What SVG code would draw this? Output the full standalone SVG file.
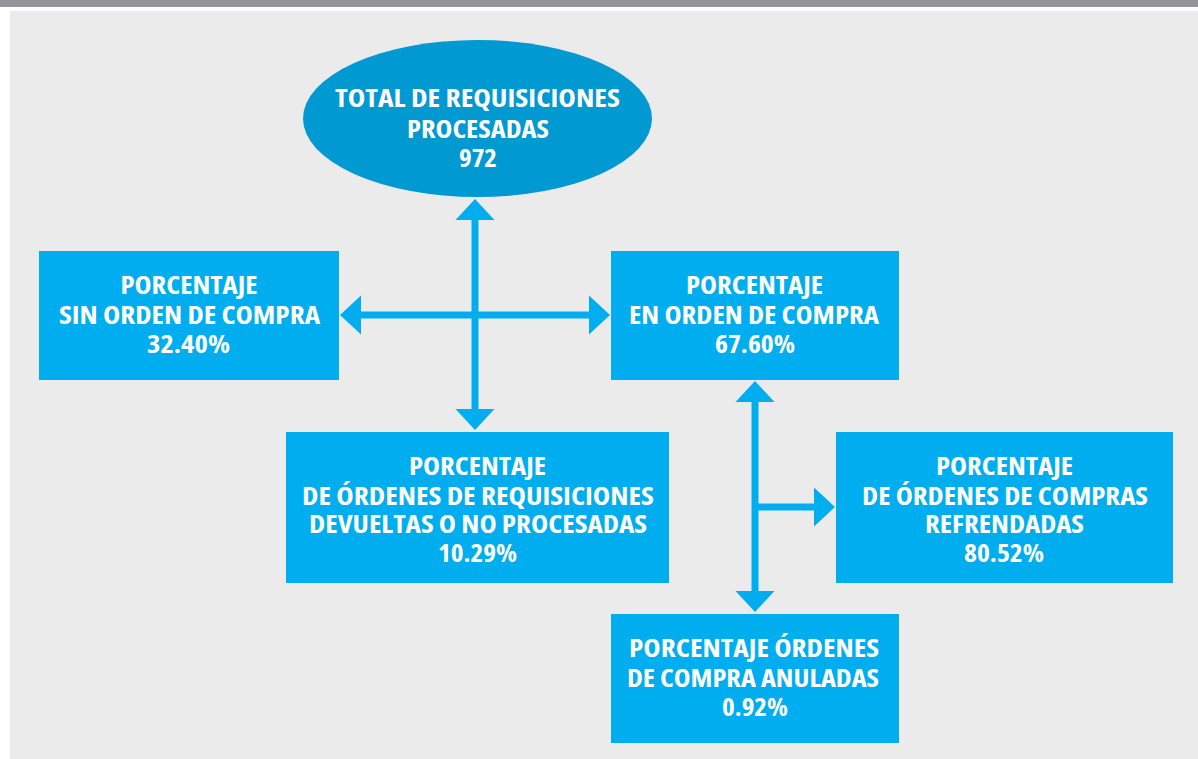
<svg xmlns="http://www.w3.org/2000/svg" width="1198" height="759" viewBox="0 0 1198 759">
<style>
.box{fill:#00AEEF}
.ell{fill:#0099D2}
.t{font-family:"Open Sans","Noto Sans","DejaVu Sans Condensed",sans-serif;font-stretch:condensed;font-weight:bold;font-size:25px;fill:#FFFFFF;text-anchor:middle}
.c{stroke:#00AEEF;stroke-width:7;fill:none}
</style>
<defs>
<marker id="ah" markerUnits="userSpaceOnUse" markerWidth="22" markerHeight="40" viewBox="0 0 22 40" refX="1" refY="20" orient="auto-start-reverse">
<path d="M0,0.5 L21,20 L0,39.5 Z" fill="#00AEEF"/>
</marker>
</defs>
<rect x="0" y="0" width="1198" height="759" fill="#FFFFFF"/>
<rect x="0" y="0" width="1198" height="7" fill="#939598"/>
<rect x="10" y="11" width="1188" height="748" fill="#EBEBEB"/>

<g id="connectors">
<line class="c" x1="475" y1="219" x2="475" y2="410" marker-start="url(#ah)" marker-end="url(#ah)"/>
<line class="c" x1="360" y1="315" x2="590" y2="315" marker-start="url(#ah)" marker-end="url(#ah)"/>
<line class="c" x1="755" y1="401" x2="755" y2="592" marker-start="url(#ah)" marker-end="url(#ah)"/>
<line class="c" x1="752" y1="507" x2="815" y2="507" marker-end="url(#ah)"/>
</g>

<g id="total">
<ellipse class="ell" cx="477.5" cy="118.5" rx="174.5" ry="78.5"/>
<text class="t" x="477.5" y="107" font-size="24" textLength="285" lengthAdjust="spacingAndGlyphs">TOTAL DE REQUISICIONES</text>
<text class="t" x="478" y="138" font-size="24" textLength="142" lengthAdjust="spacingAndGlyphs">PROCESADAS</text>
<text class="t" x="478" y="167" font-size="24" textLength="38" lengthAdjust="spacingAndGlyphs">972</text>
</g>

<g id="sin-orden">
<rect class="box" x="39" y="251" width="300" height="129"/>
<text class="t" x="189" y="294" textLength="137" lengthAdjust="spacingAndGlyphs">PORCENTAJE</text>
<text class="t" x="189.5" y="324" textLength="261" lengthAdjust="spacingAndGlyphs">SIN ORDEN DE COMPRA</text>
<text class="t" x="188.5" y="353" textLength="83" lengthAdjust="spacingAndGlyphs">32.40%</text>
</g>

<g id="en-orden">
<rect class="box" x="611" y="251" width="288" height="129"/>
<text class="t" x="754.5" y="294" textLength="137" lengthAdjust="spacingAndGlyphs">PORCENTAJE</text>
<text class="t" x="754" y="324" textLength="250" lengthAdjust="spacingAndGlyphs">EN ORDEN DE COMPRA</text>
<text class="t" x="755" y="353" textLength="80" lengthAdjust="spacingAndGlyphs">67.60%</text>
</g>

<g id="devueltas">
<rect class="box" x="286" y="432" width="383" height="151"/>
<text class="t" x="477.5" y="475" textLength="137" lengthAdjust="spacingAndGlyphs">PORCENTAJE</text>
<text class="t" x="478" y="505" textLength="352" lengthAdjust="spacingAndGlyphs">DE ÓRDENES DE REQUISICIONES</text>
<text class="t" x="478" y="533" textLength="338" lengthAdjust="spacingAndGlyphs">DEVUELTAS O NO PROCESADAS</text>
<text class="t" x="477.5" y="562" textLength="79" lengthAdjust="spacingAndGlyphs">10.29%</text>
</g>

<g id="refrendadas">
<rect class="box" x="836" y="432" width="337" height="151"/>
<text class="t" x="1004.5" y="475" textLength="137" lengthAdjust="spacingAndGlyphs">PORCENTAJE</text>
<text class="t" x="1005" y="505" textLength="286" lengthAdjust="spacingAndGlyphs">DE ÓRDENES DE COMPRAS</text>
<text class="t" x="1004.5" y="533" textLength="159" lengthAdjust="spacingAndGlyphs">REFRENDADAS</text>
<text class="t" x="1004" y="562" textLength="80" lengthAdjust="spacingAndGlyphs">80.52%</text>
</g>

<g id="anuladas">
<rect class="box" x="611" y="614" width="288" height="129"/>
<text class="t" x="754" y="657" textLength="250" lengthAdjust="spacingAndGlyphs">PORCENTAJE ÓRDENES</text>
<text class="t" x="753" y="687" textLength="252" lengthAdjust="spacingAndGlyphs">DE COMPRA ANULADAS</text>
<text class="t" x="755" y="716" textLength="66" lengthAdjust="spacingAndGlyphs">0.92%</text>
</g>
</svg>
